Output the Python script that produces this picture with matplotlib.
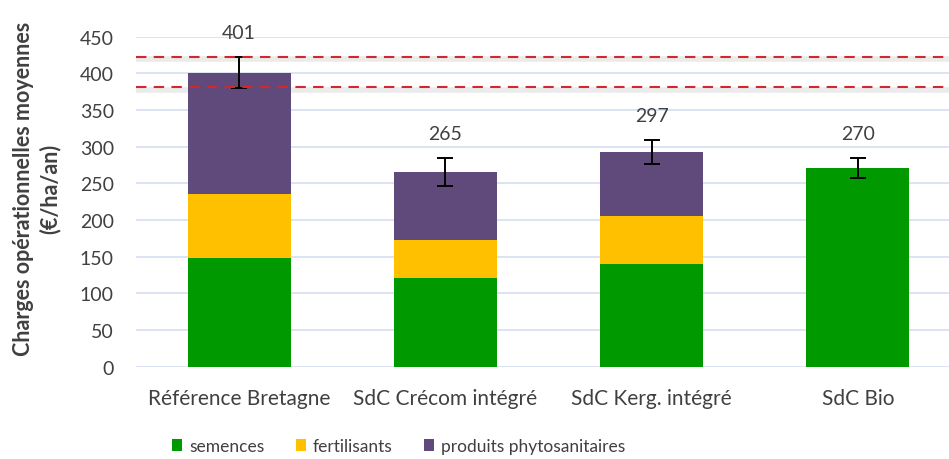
import matplotlib.pyplot as plt
import numpy as np

plt.rcParams['font.family'] = ['Lato', 'DejaVu Sans']

# data
systemes = ['Référence Bretagne', 'SdC Crécom intégré', 'SdC Kerg. intégré', 'SdC Bio']
semences = [148, 121, 140, 271]
fertilisants = [87, 52, 65, 0]
phyto = [166, 92, 88, 0]
erreur = [21, 19, 16, 13]
etiquettes = ['401', '265', '297', '270']
ref_bas, ref_haut = 381, 423

c_sem = '#009900'
c_fert = '#FFC000'
c_phyto = '#604A7B'
txt = '#404040'

fig = plt.figure(figsize=(9.49, 4.6), dpi=100)
ax = fig.add_axes([136/949, 92.3/460, 825/949, 330/460])

ind = np.arange(len(systemes))
w = 0.5
sem = np.array(semences)
fert = np.array(fertilisants)
phy = np.array(phyto)
total = sem + fert + phy

ax.bar(ind, sem, w, color=c_sem, label='semences', zorder=3)
ax.bar(ind, fert, w, bottom=sem, color=c_fert, label='fertilisants', zorder=3)
ax.bar(ind, phy, w, bottom=sem + fert, color=c_phyto, label='produits phytosanitaires', zorder=3)
ax.errorbar(ind, total, yerr=erreur, fmt='none', ecolor='black', elinewidth=1.4,
            capsize=6, capthick=1.4, zorder=4)

for i in ind:
    ax.annotate(etiquettes[i], (i, total[i] + erreur[i]), xytext=(0, 18),
                textcoords='offset points', ha='center', va='center',
                fontsize=14, color=txt, annotation_clip=False)

# fourchette de la reference (ombre + pointilles rouges)
for y in (ref_bas, ref_haut):
    ax.axhline(y - 3, color='#b0b0b0', lw=4, alpha=0.25, zorder=2)
    ax.axhline(y, color='#D0282E', lw=1.5, ls=(0, (5, 3.5)), zorder=5)

ax.set_xlim(-0.5, 3.5)
ax.set_ylim(0, 450)
ax.set_yticks(np.arange(0, 451, 50))
ax.yaxis.grid(True, color='#D9E2F3', lw=1.3, zorder=0)
ax.set_axisbelow(True)
for s in ax.spines.values():
    s.set_visible(False)
ax.tick_params(axis='y', length=0, labelsize=14, colors=txt, pad=16)
ax.set_xticks(ind)
ax.set_xticklabels(systemes)
ax.tick_params(axis='x', length=0, labelsize=15, colors=txt, pad=15)

fig.text(0.039, 1 - 189/460, 'Charges opérationnelles moyennes\n(€/ha/an)', rotation=90,
         ha='center', va='center', fontsize=15.5, fontweight='bold', color=txt,
         linespacing=1.25)

fig.legend(loc='center', bbox_to_anchor=(0.42, 0.028), ncol=3, frameon=False,
           fontsize=12.5, handlelength=0.6, handleheight=0.6, handletextpad=0.4,
           columnspacing=1.8, labelcolor=txt)

plt.savefig('out.png', dpi=100)
